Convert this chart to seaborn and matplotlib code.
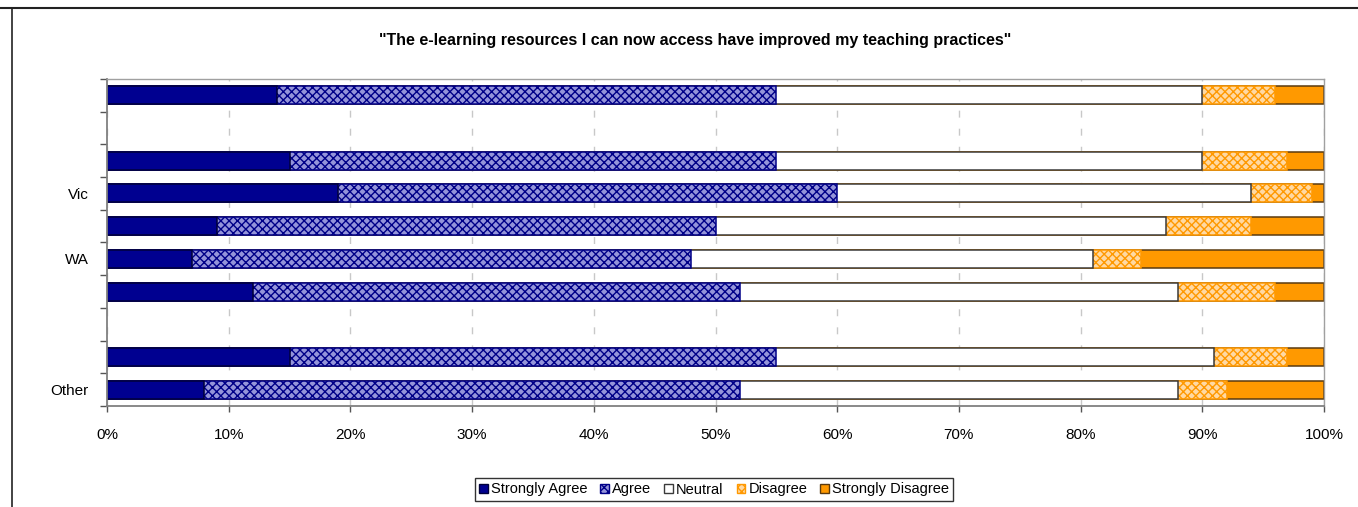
import matplotlib.pyplot as plt
import pandas as pd
import seaborn as sns
from matplotlib.lines import Line2D
from matplotlib.patches import Patch
from matplotlib.ticker import FixedLocator, PercentFormatter

# category slots, top to bottom (two empty spacer slots, labels only every 2nd)
slots = ["r0", "gap_a", "r2", "Vic", "r4", "WA", "r6", "gap_b", "r8", "Other"]
tick_labels = ["", "", "", "Vic", "", "WA", "", "", "", "Other"]
bar_rows = ["r0", "r2", "Vic", "r4", "WA", "r6", "r8", "Other"]

# percentages per response, one value per bar row
strongly_agree = [14, 15, 19, 9, 7, 12, 15, 8]
agree = [41, 40, 41, 41, 41, 40, 40, 44]
neutral = [35, 35, 34, 37, 33, 36, 36, 36]
disagree = [6, 7, 5, 7, 4, 8, 6, 4]
strongly_disagree = [4, 3, 1, 6, 15, 4, 3, 8]

responses = ["Strongly Agree", "Agree", "Neutral", "Disagree", "Strongly Disagree"]
# (face, edge/hatch colour, hatch)
looks = {
    "Strongly Agree": ("#000090", "#00003A", None),
    "Agree": ("#9494DA", "#000088", "xxxx"),
    "Neutral": ("white", "#3A3A3A", None),
    "Disagree": ("#FFD9A3", "#FF9900", "xxxx"),
    "Strongly Disagree": ("#FF9900", "#5A3A10", None),
}

df = pd.DataFrame({
    "row": bar_rows,
    "Strongly Agree": strongly_agree,
    "Agree": agree,
    "Neutral": neutral,
    "Disagree": disagree,
    "Strongly Disagree": strongly_disagree,
})
cum = df[responses].cumsum(axis=1)
cum["row"] = df["row"]

sns.set_theme(style="white")
plt.rcParams["font.family"] = ["Liberation Sans", "DejaVu Sans"]
plt.rcParams["text.color"] = "black"
plt.rcParams["xtick.color"] = "black"
plt.rcParams["ytick.color"] = "black"

fig = plt.figure(figsize=(13.58, 5.07), dpi=100)
ax = fig.add_axes([107 / 1358, 1 - 406 / 507, (1324 - 107) / 1358, (406 - 79) / 507])

# stacked bars: draw cumulative totals back to front
for resp in reversed(responses):
    face, edge, hatch = looks[resp]
    sns.barplot(
        data=cum, x=resp, y="row", order=slots, orient="h",
        color=face, saturation=1, width=0.55, edgecolor=edge,
        linewidth=1.1, hatch=hatch, errorbar=None, ax=ax,
    )

ax.set_xlim(0, 100)
ax.set_ylim(9.5, -0.5)
ax.xaxis.set_major_locator(FixedLocator(range(0, 101, 10)))
ax.xaxis.set_major_formatter(PercentFormatter(decimals=0))
ax.set_yticks(range(len(slots)))
ax.set_yticklabels(tick_labels)
ax.yaxis.set_minor_locator(FixedLocator([i - 0.5 for i in range(len(slots) + 1)]))
ax.set_xlabel("")
ax.set_ylabel("")

ax.tick_params(axis="x", which="major", length=4, width=1, color="#555555",
               labelsize=11, pad=12, bottom=True)
ax.tick_params(axis="y", which="major", length=0, labelsize=11, pad=13)
ax.tick_params(axis="y", which="minor", length=5, width=1, color="#555555", left=True)

ax.grid(axis="x", linestyle=(0, (5, 8)), color="#C8C8C8", linewidth=1)
ax.grid(axis="y", visible=False)
ax.set_axisbelow(True)
for side in ["top", "right"]:
    ax.spines[side].set_color("#A0A0A0")
    ax.spines[side].set_linewidth(1)
for side in ["left", "bottom"]:
    ax.spines[side].set_color("#808080")
    ax.spines[side].set_linewidth(1.3)

fig.text(0.512, 1 - 40 / 507, "\"The e-learning resources I can now access have improved my teaching practices\"",
         ha="center", va="center", fontsize=11.5, fontweight="bold")

handles = [
    Patch(facecolor=looks[r][0], edgecolor=looks[r][1], hatch=looks[r][2], label=r)
    for r in responses
]
leg = fig.legend(handles=handles, loc="center", bbox_to_anchor=(714 / 1358, 1 - 489.5 / 507),
                 ncol=5, fontsize=10.5, frameon=True, fancybox=False, shadow=False,
                 handlelength=0.6, handleheight=0.6, handletextpad=0.2, columnspacing=0.9,
                 borderpad=0.3, borderaxespad=0)
leg.get_frame().set_edgecolor("black")
leg.get_frame().set_linewidth(1)

# outer chart frame (top and left edges visible)
fig.add_artist(Line2D([0, 1], [1 - 7.5 / 507] * 2, transform=fig.transFigure, color="#222222", lw=1.5))
fig.add_artist(Line2D([11.5 / 1358] * 2, [0, 1 - 7.5 / 507], transform=fig.transFigure, color="#222222", lw=1.2))

fig.savefig("out.png", dpi=100, facecolor="white")
